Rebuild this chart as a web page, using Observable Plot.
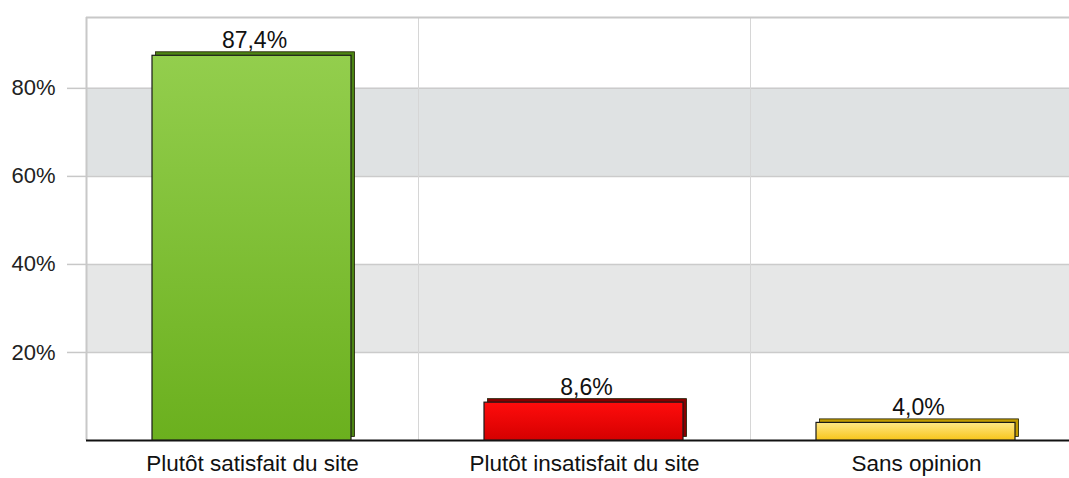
<!DOCTYPE html>
<html>
<head>
<meta charset="utf-8">
<script src="https://cdn.jsdelivr.net/npm/d3@7"></script>
<script src="https://cdn.jsdelivr.net/npm/@observablehq/plot@0.6"></script>
<style>
  html, body { margin: 0; padding: 0; background: #fff; }
</style>
</head>
<body>
<div id="chart"></div>
<script>
const categories = ["Plutôt satisfait du site", "Plutôt insatisfait du site", "Sans opinion"];
const values = [87.4, 8.6, 4.0];
const yTicks = [20, 40, 60, 80];
const yMax = 96.1;
const bandRanges = [[20, 40], [60, 80]];

const data = categories.map((c, i) => ({category: c, value: values[i], idx: i}));
const fmt = v => v.toFixed(1).replace(".", ",") + "%";

const grads = [
  {id: "g0", top: "#93ce4d", bottom: "#6bb01e", side: "#4c8513"},
  {id: "g1", top: "#ff0c0c", bottom: "#d50000", side: "#860000"},
  {id: "g2", top: "#ffe786", bottom: "#f7c51a", side: "#c29b00"}
];

function defsMark() {
  const ns = "http://www.w3.org/2000/svg";
  const defs = document.createElementNS(ns, "defs");
  for (const g of grads) {
    const lg = document.createElementNS(ns, "linearGradient");
    lg.setAttribute("id", g.id);
    lg.setAttribute("x1", "0"); lg.setAttribute("y1", "0");
    lg.setAttribute("x2", "0"); lg.setAttribute("y2", "1");
    const s1 = document.createElementNS(ns, "stop");
    s1.setAttribute("offset", "0%"); s1.setAttribute("stop-color", g.top);
    const s2 = document.createElementNS(ns, "stop");
    s2.setAttribute("offset", "100%"); s2.setAttribute("stop-color", g.bottom);
    lg.appendChild(s1); lg.appendChild(s2);
    defs.appendChild(lg);
  }
  return defs;
}

const chart = Plot.plot({
  width: 1069,
  height: 478,
  marginLeft: 86,
  marginRight: 0,
  marginTop: 17,
  marginBottom: 38,
  style: {fontFamily: "'Liberation Sans', Arial, sans-serif", background: "#fff"},
  x: {type: "band", domain: categories, range: [86, 1082], padding: 0, axis: null, label: null},
  y: {domain: [0, yMax], axis: null, label: null},
  color: {type: "identity"},
  marks: [
    defsMark,
    Plot.rect(bandRanges, {y1: d => d[0], y2: d => d[1], fill: (d, i) => i ? "#dfe2e3" : "#e6e7e7"}),
    Plot.ruleY(yTicks, {stroke: "#cbcbcb", strokeWidth: 1.5}),
    Plot.ruleX(categories.slice(1), {x: d => d, dx: -166, stroke: "#d6d6d6", strokeWidth: 1}),
    Plot.ruleX(categories.slice(0, 1), {x: d => d, dx: -166, stroke: "#c8c8c8", strokeWidth: 2}),
    Plot.ruleY([yMax], {stroke: "#c8c8c8", strokeWidth: 2}),
    Plot.axisY({ticks: yTicks, tickSize: 19, text: null, label: null, stroke: "#c8c8c8", strokeWidth: 1.5}),
    Plot.axisY({ticks: yTicks, tickSize: 0, tickPadding: 31, label: null, tickFormat: d => d + "%", fontSize: 22, fill: "#222"}),
    Plot.ruleY([0], {stroke: "#111", strokeWidth: 2}),
    Plot.barY(data, {x: "category", y: "value", insetLeft: 66, insetRight: 67, dx: 3.5, dy: -3.5,
      fill: d => grads[d.idx].side, stroke: "#1c1c00", strokeWidth: 0.8}),
    Plot.barY(data, {x: "category", y: "value", insetLeft: 66, insetRight: 67,
      fill: d => "url(#" + grads[d.idx].id + ")", stroke: "#1a1a1a", strokeWidth: 1.2}),
    Plot.text(data, {x: "category", y: "value", text: d => fmt(d.value), dx: 2, dy: -8,
      lineAnchor: "bottom", fontSize: 23, fill: "#111"}),
    Plot.axisX({tickSize: 0, tickPadding: 15, label: null, fontSize: 22.5, fill: "#111"})
  ]
});

document.getElementById("chart").appendChild(chart);
</script>
</body>
</html>
